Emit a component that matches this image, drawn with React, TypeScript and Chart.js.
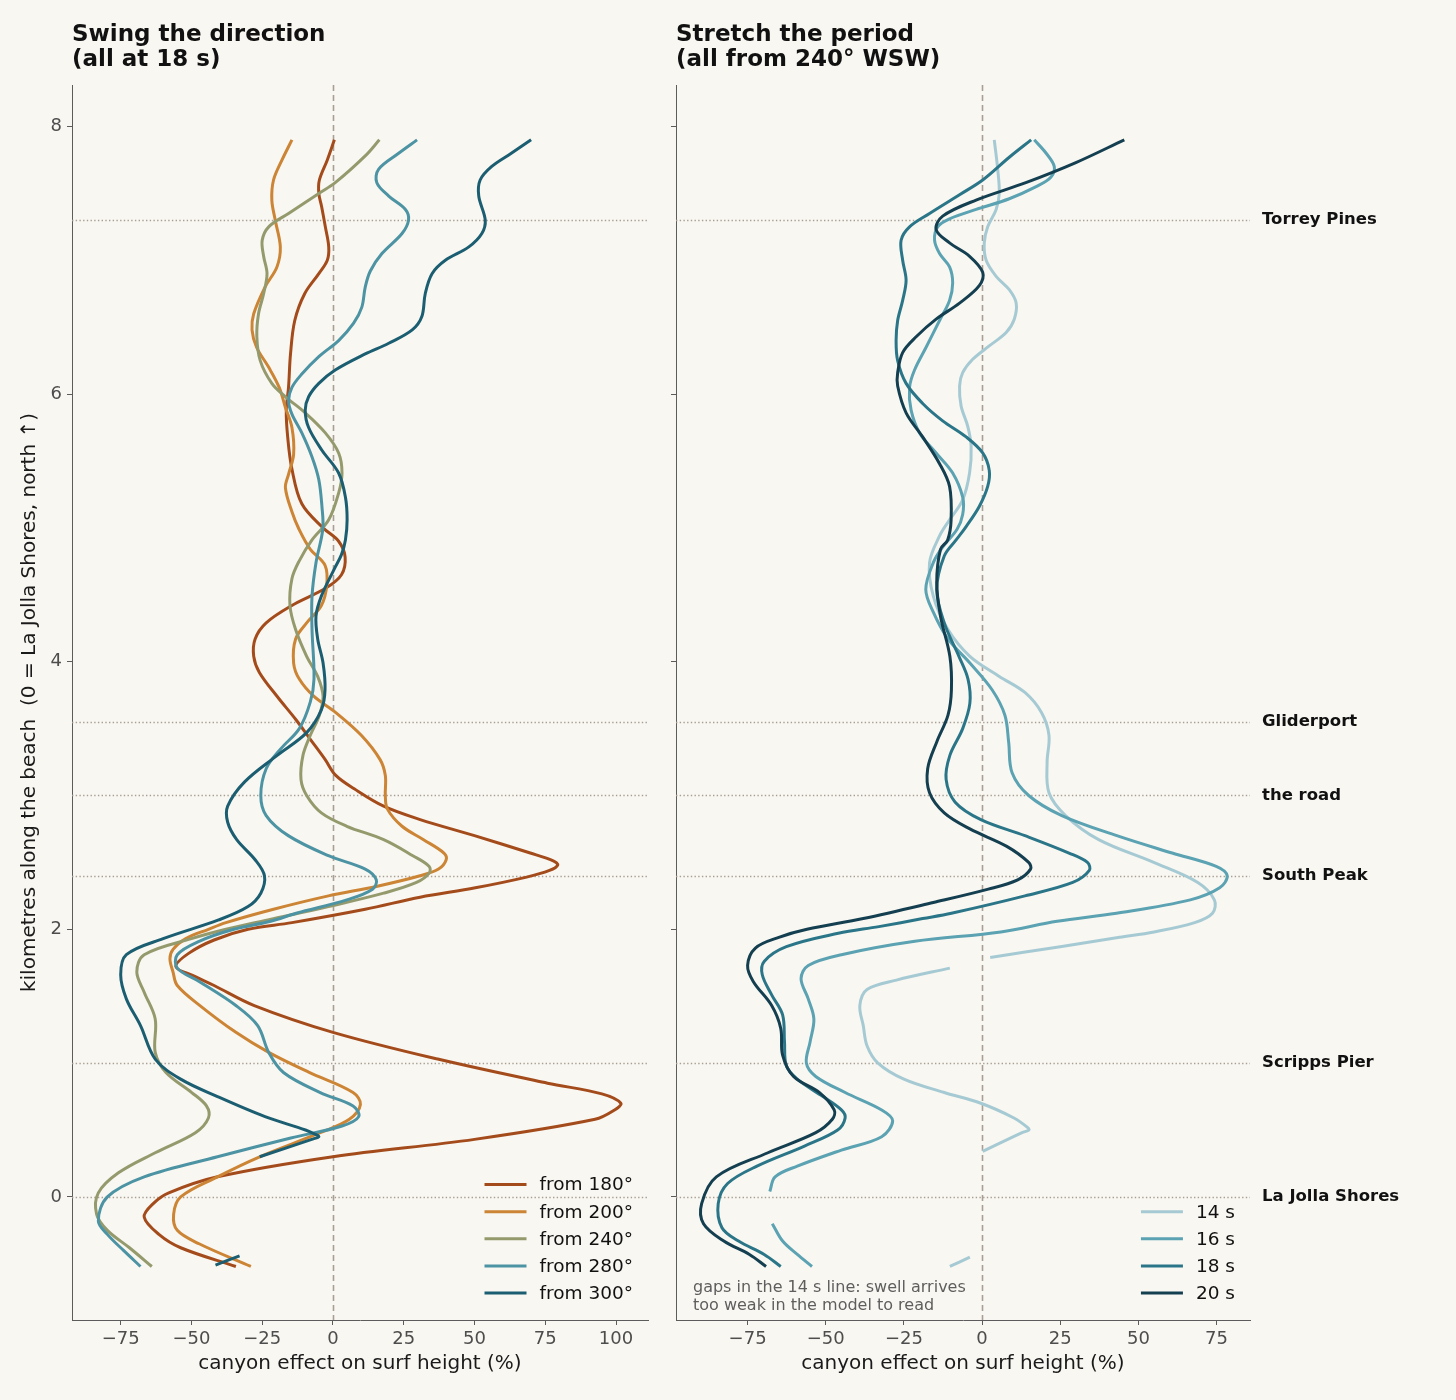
import React, { useEffect, useRef } from 'react';
import { Chart, registerables } from 'chart.js';

Chart.register(...registerables);

const FONT = '"DejaVu Sans", "Liberation Sans", sans-serif';
Chart.defaults.font.family = FONT;

type P = [number, number] | null; // [km along beach, canyon effect %]

// ---------- axes / ticks ----------
const KM_TICKS = [0, 2, 4, 6, 8];
const LEFT_X_TICKS = [-75, -50, -25, 0, 25, 50, 75, 100];
const RIGHT_X_TICKS = [-75, -50, -25, 0, 25, 50, 75];

// ---------- landmarks ----------
const LANDMARK_NAMES = ['Torrey Pines', 'Gliderport', 'the road', 'South Peak', 'Scripps Pier', 'La Jolla Shores'];
const LANDMARK_KM = [7.3, 3.55, 3.0, 2.4, 1.0, 0];

// ---------- left panel: direction (all at 18 s) ----------
const DIR_LABELS = ['from 180°', 'from 200°', 'from 240°', 'from 280°', 'from 300°'];
const DIR_COLORS = ['#a44b1b', '#cc8435', '#959a6d', '#4c93a3', '#1b5e71'];

const DIR_180: P[] = [
  [7.9, 0.5], [7.75, -2], [7.6, -4.8], [7.5, -5], [7.4, -4], [7.25, -2.7], [7.1, -1.5], [7.0, -2], [6.9, -5],
  [6.75, -10], [6.55, -13.5], [6.3, -15], [6.05, -15.7], [5.88, -16.5], [5.68, -16], [5.44, -14.5], [5.18, -11],
  [5.0, -3.5], [4.9, 2], [4.78, 4.3], [4.65, 3], [4.55, -2.5], [4.42, -14.5], [4.29, -23.6], [4.17, -27.5],
  [4.04, -28], [3.92, -26], [3.74, -19.7], [3.57, -13.2], [3.42, -8], [3.27, -2.8], [3.15, 1], [3.05, 7.5],
  [2.92, 17.9], [2.82, 30.8], [2.7, 50], [2.57, 69.7], [2.51, 78], [2.48, 79.4], [2.44, 76.5], [2.39, 68.4],
  [2.31, 50.3], [2.24, 30.8], [2.15, 11.4], [2.05, -14.5], [2.0, -30], [1.92, -42], [1.82, -51], [1.72, -55.5],
  [1.65, -49], [1.58, -42], [1.43, -27.8], [1.23, 0], [1.03, 37], [0.85, 75.8], [0.77, 95], [0.7, 101.7],
  [0.65, 99.5], [0.58, 92.6], [0.43, 50], [0.3, 0], [0.15, -40.8], [0.03, -58], [-0.05, -63.5], [-0.15, -66.7],
  [-0.28, -61.5], [-0.38, -53.8], [-0.52, -34.3],
];
const DIR_200: P[] = [
  [7.9, -14.5], [7.75, -18], [7.6, -21], [7.45, -21.6], [7.3, -20.4], [7.1, -18.6], [6.95, -19.8], [6.8, -24],
  [6.6, -28], [6.48, -28.6], [6.35, -27], [6.2, -22.7], [6.05, -19], [5.9, -16.8], [5.75, -14.5], [5.55, -13.9],
  [5.4, -15.7], [5.3, -16.8], [5.12, -14.5], [4.99, -12], [4.84, -8], [4.72, -2.8], [4.57, -2.2], [4.42, -4.1],
  [4.29, -9.3], [4.17, -13.2], [3.99, -13.9], [3.87, -11.9], [3.74, -6.7], [3.62, 1], [3.45, 10], [3.27, 16.6],
  [3.15, 18.5], [3.0, 18.5], [2.9, 19.2], [2.77, 24.4], [2.67, 32], [2.57, 39.2], [2.52, 40], [2.45, 37.3],
  [2.4, 30.8], [2.32, 15.3], [2.25, -1.6], [2.15, -21], [2.05, -37.8], [2.0, -44], [1.93, -52], [1.85, -56.5],
  [1.78, -57.6], [1.68, -56.5], [1.58, -55], [1.43, -47], [1.23, -34.3], [1.08, -22.7], [0.93, -8.4], [0.78, 7.1],
  [0.69, 9.7], [0.58, 5.8], [0.48, -4.5], [0.3, -25.9], [0.15, -40.8], [0.0, -53.8], [-0.13, -56.3], [-0.25, -55],
  [-0.35, -47.3], [-0.52, -29],
];
const DIR_240: P[] = [
  [7.9, 16.4], [7.78, 11.4], [7.58, 0.8], [7.5, -5], [7.35, -15.7], [7.25, -22.7], [7.15, -25], [7.03, -24.5],
  [6.9, -23.3], [6.75, -24.5], [6.6, -26.3], [6.43, -26.9], [6.25, -25.7], [6.08, -21.6], [5.98, -16.8], [5.86, -9.8],
  [5.71, -2.7], [5.56, 2], [5.41, 3.2], [5.26, 2], [5.06, -1.5], [4.91, -7.4], [4.75, -12], [4.62, -14.5],
  [4.42, -15.2], [4.24, -13.2], [4.04, -9.3], [3.89, -5.4], [3.74, -3.5], [3.6, -4.8], [3.45, -8], [3.3, -10.6],
  [3.12, -11.3], [3.0, -9.3], [2.87, -4.1], [2.77, 4.9], [2.67, 17.9], [2.55, 28.2], [2.47, 34], [2.42, 34],
  [2.35, 29.5], [2.27, 17.9], [2.17, -1.6], [2.07, -23], [2.0, -37.8], [1.93, -50], [1.81, -66.7], [1.68, -69.3],
  [1.53, -66.7], [1.33, -62.8], [1.08, -62.8], [0.93, -59], [0.78, -49.9], [0.68, -44.7], [0.59, -44], [0.48, -48.6],
  [0.33, -62.8], [0.18, -75.8], [0.03, -82.9], [-0.13, -83.5], [-0.25, -79.7], [-0.38, -71.9], [-0.52, -64],
];
const DIR_280: P[] = [
  [7.9, 29.7], [7.8, 23.2], [7.68, 16.1], [7.58, 15.5], [7.48, 19.7], [7.38, 25.6], [7.3, 26.7], [7.2, 24.4],
  [7.05, 17.3], [6.92, 13.2], [6.8, 11.4], [6.65, 10.2], [6.53, 7.3], [6.4, 2], [6.28, -5], [6.15, -11],
  [6.05, -14.5], [5.95, -15.7], [5.85, -14.5], [5.71, -11], [5.53, -7.4], [5.36, -5], [5.16, -3.9], [4.99, -3.6],
  [4.74, -6], [4.49, -7.4], [4.24, -7.4], [3.87, -6.7], [3.7, -8], [3.5, -11.9], [3.35, -18.4], [3.2, -23.6],
  [3.0, -25.5], [2.85, -23.6], [2.7, -15.8], [2.55, -1.6], [2.45, 11.4], [2.37, 15.3], [2.3, 14], [2.22, 4.9],
  [2.12, -13], [2.06, -22], [2.0, -35], [1.91, -47.3], [1.81, -55], [1.71, -55], [1.61, -47.3], [1.43, -34.3],
  [1.28, -26.6], [1.08, -22.7], [0.93, -17.5], [0.78, -4.5], [0.68, 7.1], [0.6, 9.1], [0.53, 3.2], [0.44, -14.9],
  [0.3, -40.8], [0.15, -66.7], [0.0, -79.7], [-0.18, -82.9], [-0.28, -79.7], [-0.4, -74], [-0.52, -68],
];
const DIR_300: P[] = [
  [7.9, 70], [7.8, 63], [7.7, 56], [7.6, 52], [7.48, 51.5], [7.3, 53.8], [7.2, 52.6], [7.1, 48], [7.0, 39.7],
  [6.9, 35], [6.75, 32.6], [6.58, 31.4], [6.48, 28], [6.38, 19.7], [6.3, 11.4], [6.18, 0.8], [6.08, -5],
  [5.98, -8.6], [5.88, -9.8], [5.75, -8.6], [5.58, -3.9], [5.41, 2], [5.23, 4.4], [5.06, 5], [4.91, 4.4],
  [4.8, 3], [4.69, 0.4], [4.49, -4.1], [4.34, -6], [4.17, -5.4], [3.99, -3.5], [3.79, -2.8], [3.64, -4.1],
  [3.47, -9.3], [3.3, -19.7], [3.1, -31.3], [2.92, -37.2], [2.8, -37.2], [2.67, -34], [2.52, -27.5], [2.4, -24.2],
  [2.27, -25.5], [2.17, -30], [2.07, -40.4], [1.93, -60], [1.81, -73], [1.66, -75], [1.48, -73], [1.28, -68],
  [1.03, -62.8], [0.88, -53.8], [0.75, -40.8], [0.6, -24], [0.5, -9.7], [0.465, -6], [0.45, -5], [0.43, -7.5],
  [0.3, -25.9], null, [-0.44, -33], [-0.51, -41.5],
];

// ---------- right panel: period (all from 240°) ----------
const PER_LABELS = ['14 s', '16 s', '18 s', '20 s'];
const PER_COLORS = ['#a6cad3', '#5ba2b2', '#2a7688', '#143f50'];

const PER_14: P[] = [
  [7.9, 3.9], [7.68, 5], [7.5, 5.5], [7.38, 4.5], [7.25, 1.8], [7.13, 0.7], [7.0, 1.3], [6.88, 4.5], [6.78, 8.7],
  [6.68, 10.9], [6.56, 10.3], [6.46, 7.7], [6.36, 2.3], [6.26, -3], [6.16, -6.2], [6.06, -7.2], [5.91, -6.7],
  [5.76, -4.6], [5.61, -3.5], [5.41, -4], [5.21, -6.2], [5.06, -10.4], [4.94, -13.6], [4.74, -16.8], [4.49, -15.6],
  [4.24, -10.9], [4.04, -3.9], [3.89, 5.5], [3.77, 13.7], [3.62, 19], [3.45, 21.4], [3.25, 20.8], [3.02, 21.4],
  [2.85, 26.7], [2.67, 37.3], [2.5, 54.9], [2.35, 69], [2.22, 74.3], [2.12, 73.7], [2.05, 68], [1.98, 55],
  [1.94, 44], [1.87, 25], [1.79, 2.6], null,
  [1.71, -10.3], [1.62, -27.4], [1.55, -36.8], [1.43, -39.1], [1.28, -38], [1.13, -36.8], [1.0, -33.3],
  [0.88, -25], [0.78, -12.1], [0.7, -0.4], [0.59, 10.2], [0.52, 14.5], [0.5, 15], [0.48, 12.8], [0.34, 0.2], null,
  [-0.45, -3.9], [-0.52, -10.3],
];
const PER_16: P[] = [
  [7.9, 16.7], [7.8, 20.5], [7.7, 23.1], [7.62, 22], [7.55, 17.3], [7.46, 8.7], [7.38, -1.9], [7.31, -10.4],
  [7.25, -14.2], [7.15, -15.2], [7.05, -13.6], [6.95, -10.4], [6.83, -9.4], [6.7, -10.4], [6.55, -13.6],
  [6.35, -17.9], [6.18, -21.6], [6.05, -23.2], [5.88, -22.7], [5.71, -20], [5.56, -14.7], [5.41, -9.4],
  [5.23, -6.2], [5.1, -6.2], [4.99, -8], [4.86, -12.5], [4.74, -15.6], [4.54, -18], [4.37, -15.6], [4.17, -10.9],
  [3.99, -3.9], [3.79, 3.2], [3.6, 7.3], [3.4, 8.5], [3.17, 9.6], [3.0, 14.9], [2.85, 25.5], [2.7, 43.1],
  [2.57, 60.8], [2.47, 74.9], [2.4, 78.4], [2.31, 76], [2.22, 66.6], [2.12, 43], [2.06, 24], [1.98, 6],
  [1.91, -21.5], [1.81, -45], [1.73, -55.6], [1.63, -57.9], [1.48, -55.6], [1.33, -53.8], [1.16, -55], [1.0, -56.2],
  [0.9, -53.2], [0.78, -43.8], [0.65, -32.1], [0.57, -28.6], [0.45, -32.1], [0.35, -45], [0.23, -59.1],
  [0.15, -66.2], [0.04, -67.9], null, [-0.2, -67.1], [-0.33, -63.8], [-0.43, -59.1], [-0.52, -54.4],
];
const PER_18: P[] = [
  [7.9, 15.7], [7.77, 8.7], [7.6, 0.2], [7.49, -7.2], [7.35, -16.8], [7.25, -23.2], [7.15, -25.9], [7.0, -25.4],
  [6.85, -24.3], [6.7, -25.4], [6.55, -27], [6.4, -27.5], [6.25, -27], [6.08, -24.3], [5.93, -19], [5.8, -12.6],
  [5.68, -5.1], [5.56, 0.2], [5.43, 2.3], [5.31, 1.8], [5.16, -0.9], [5.01, -5.1], [4.91, -8.3], [4.79, -12.1],
  [4.54, -14.5], [4.29, -12.1], [4.04, -7.4], [3.87, -4.5], [3.69, -3.9], [3.5, -6.2], [3.3, -10.3], [3.12, -11.5],
  [2.95, -8.6], [2.82, -0.4], [2.7, 13.7], [2.57, 27.8], [2.5, 33.7], [2.44, 34.3], [2.35, 29], [2.25, 13.7],
  [2.12, -9.8], [2.08, -19], [2.02, -33], [1.97, -46], [1.87, -62.6], [1.76, -69.7], [1.66, -70.3], [1.51, -67.3],
  [1.36, -63.8], [1.16, -63.2], [0.98, -62.6], [0.88, -59.1], [0.75, -50.9], [0.65, -45], [0.59, -43.8],
  [0.5, -46.2], [0.38, -56.8], [0.23, -72], [0.1, -81.4], [-0.05, -84.4], [-0.23, -83.2], [-0.33, -77.9],
  [-0.43, -69.7], [-0.52, -64.4],
];
const PER_20: P[] = [
  [7.9, 45.5], [7.73, 30], [7.58, 14], [7.45, -1.9], [7.33, -12.6], [7.23, -14.7], [7.13, -10.4], [7.03, -4],
  [6.91, 0.2], [6.81, -0.9], [6.68, -7.2], [6.56, -14.7], [6.43, -21], [6.31, -25.4], [6.16, -27], [6.06, -27],
  [5.86, -24.3], [5.68, -19], [5.48, -13.6], [5.31, -10.4], [5.06, -9.9], [4.91, -11], [4.84, -13.3], [4.59, -14.5],
  [4.34, -13.3], [4.04, -10.3], [3.79, -9.8], [3.6, -10.9], [3.4, -14.5], [3.2, -17.4], [3.02, -16.8], [2.87, -12.1],
  [2.75, -3.9], [2.62, 7.9], [2.5, 14.9], [2.45, 15.5], [2.37, 11.4], [2.3, 2], [2.2, -15.6], [2.08, -38],
  [2.0, -56], [1.94, -65], [1.86, -72.5], [1.73, -75], [1.61, -73.2], [1.43, -67.3], [1.26, -64.4], [1.06, -63.8],
  [0.9, -60.3], [0.78, -52], [0.65, -47.3], [0.58, -47.9], [0.48, -53.2], [0.33, -68.5], [0.15, -85],
  [-0.05, -89.7], [-0.2, -89.1], [-0.33, -82.6], [-0.43, -74.4], [-0.52, -69.1],
];

const LEFT_TITLE = ['Swing the direction', '(all at 18 s)'];
const RIGHT_TITLE = ['Stretch the period', '(all from 240° WSW)'];
const NOTE_LINES = ['gaps in the 14 s line: swell arrives', 'too weak in the model to read'];
const X_TITLE = 'canyon effect on surf height (%)';
const Y_TITLE = 'kilometres along the beach  (0 = La Jolla Shores, north \u2191)';

const BG = '#f9f7f2';
const AXIS = '#5c5c5c';

const toPoints = (s: P[]) => s.map((q) => (q ? { x: q[1], y: q[0] } : { x: null, y: null }));
const fmtTick = (v: number) => (v < 0 ? '\u2212' + Math.abs(v) : String(v));

interface PanelCfg {
  series: P[][];
  labels: string[];
  colors: string[];
  xMin: number;
  xMax: number;
  xTicks: number[];
  yAxisWidth: number;
  padRight: number;
  yLabels: boolean;
  title: string[];
  landmarks: boolean;
  note?: string[];
}

function decoPlugin(cfg: PanelCfg) {
  return {
    id: 'panelDeco',
    beforeDatasetsDraw(chart: any) {
      const { ctx, chartArea: a, scales } = chart;
      ctx.save();
      ctx.beginPath();
      ctx.rect(a.left, a.top, a.right - a.left, a.bottom - a.top);
      ctx.clip();
      ctx.strokeStyle = '#a79f93';
      ctx.lineWidth = 1.3;
      ctx.setLineDash([1.4, 2.3]);
      for (const km of LANDMARK_KM) {
        const y = Math.round(scales.y.getPixelForValue(km)) + 0.5;
        ctx.beginPath();
        ctx.moveTo(a.left, y);
        ctx.lineTo(a.right, y);
        ctx.stroke();
      }
      const x0 = Math.round(scales.x.getPixelForValue(0)) + 0.5;
      ctx.strokeStyle = '#a89f94';
      ctx.lineWidth = 1.6;
      ctx.setLineDash([6, 4]);
      ctx.beginPath();
      ctx.moveTo(x0, a.top);
      ctx.lineTo(x0, a.bottom);
      ctx.stroke();
      ctx.restore();
    },
    afterDatasetsDraw(chart: any) {
      const { ctx, chartArea: a } = chart;
      ctx.save();
      ctx.font = `18.5px ${FONT}`;
      const maxW = Math.max(...cfg.labels.map((l) => ctx.measureText(l).width));
      const textX = a.right - 15 - maxW;
      const lx1 = textX - 13;
      const lx0 = lx1 - 42;
      const n = cfg.labels.length;
      cfg.labels.forEach((lab, i) => {
        const y = a.bottom - 27 - (n - 1 - i) * 27.1;
        ctx.strokeStyle = cfg.colors[i];
        ctx.lineWidth = 3;
        ctx.setLineDash([]);
        ctx.beginPath();
        ctx.moveTo(lx0, y);
        ctx.lineTo(lx1, y);
        ctx.stroke();
        ctx.fillStyle = '#111';
        ctx.textAlign = 'left';
        ctx.textBaseline = 'middle';
        ctx.fillText(lab, textX, y + 1);
      });
      if (cfg.note) {
        ctx.font = `16px ${FONT}`;
        ctx.fillStyle = '#5e5e5e';
        ctx.textBaseline = 'middle';
        cfg.note.forEach((t, i) => ctx.fillText(t, a.left + 17, 1288 + i * 18));
      }
      ctx.restore();
    },
    afterDraw(chart: any) {
      const { ctx, chartArea: a, scales } = chart;
      ctx.save();
      ctx.fillStyle = '#111';
      ctx.textAlign = 'left';
      ctx.textBaseline = 'alphabetic';
      ctx.font = `bold 23px ${FONT}`;
      ctx.fillText(cfg.title[0], a.left, 41);
      ctx.fillText(cfg.title[1], a.left, 66);
      if (cfg.landmarks) {
        ctx.font = `bold 16.5px ${FONT}`;
        ctx.textBaseline = 'middle';
        LANDMARK_NAMES.forEach((name, i) => {
          ctx.fillText(name, a.right + 12, scales.y.getPixelForValue(LANDMARK_KM[i]));
        });
      }
      ctx.restore();
    },
  };
}

function buildChart(canvas: HTMLCanvasElement, cfg: PanelCfg) {
  const n = cfg.series.length;
  return new Chart(canvas, {
    type: 'scatter',
    data: {
      datasets: cfg.series.map((s, i) => ({
        label: cfg.labels[i],
        data: toPoints(s) as any,
        borderColor: cfg.colors[i],
        backgroundColor: cfg.colors[i],
        borderWidth: 3,
        showLine: true,
        pointRadius: 0,
        pointHoverRadius: 0,
        tension: 0.35,
        fill: false,
        spanGaps: false,
        borderJoinStyle: 'round',
        order: n - i,
      })),
    },
    options: {
      responsive: false,
      animation: false,
      events: [],
      layout: { padding: { top: 85, right: cfg.padRight, bottom: 0, left: 0 } },
      plugins: {
        legend: { display: false },
        tooltip: { enabled: false },
        title: { display: false },
      },
      scales: {
        x: {
          type: 'linear',
          min: cfg.xMin,
          max: cfg.xMax,
          afterBuildTicks: (axis: any) => {
            axis.ticks = cfg.xTicks.map((v) => ({ value: v }));
          },
          afterFit: (axis: any) => {
            axis.height = 80;
          },
          grid: { drawOnChartArea: false, drawTicks: true, tickLength: 5, color: AXIS, lineWidth: 1 },
          border: { display: true, color: AXIS, width: 1 },
          ticks: {
            color: '#4d4d4d',
            font: { size: 18 },
            padding: 4,
            maxRotation: 0,
            autoSkip: false,
            callback: (v: any) => fmtTick(Number(v)),
          },
          title: {
            display: true,
            text: X_TITLE,
            color: '#1a1a1a',
            font: { size: 20 },
            padding: { top: 0, bottom: 24 },
          },
        },
        y: {
          type: 'linear',
          min: -0.92,
          max: 8.31,
          afterBuildTicks: (axis: any) => {
            axis.ticks = KM_TICKS.map((v) => ({ value: v }));
          },
          afterFit: (axis: any) => {
            axis.width = cfg.yAxisWidth;
          },
          grid: { drawOnChartArea: false, drawTicks: true, tickLength: 5, color: AXIS, lineWidth: 1 },
          border: { display: true, color: AXIS, width: 1 },
          ticks: {
            display: cfg.yLabels,
            color: '#4d4d4d',
            font: { size: 18 },
            padding: 5,
            callback: (v: any) => fmtTick(Number(v)),
          },
          title: {
            display: cfg.yLabels,
            text: Y_TITLE,
            color: '#1a1a1a',
            font: { size: 20 },
            padding: { top: 18, bottom: 0 },
          },
        },
      },
    } as any,
    plugins: [decoPlugin(cfg)],
  });
}

export default function App() {
  const leftRef = useRef<HTMLCanvasElement>(null);
  const rightRef = useRef<HTMLCanvasElement>(null);

  useEffect(() => {
    const left = buildChart(leftRef.current!, {
      series: [DIR_180, DIR_200, DIR_240, DIR_280, DIR_300],
      labels: DIR_LABELS,
      colors: DIR_COLORS,
      xMin: -92.2,
      xMax: 111.3,
      xTicks: LEFT_X_TICKS,
      yAxisWidth: 72,
      padRight: 12,
      yLabels: true,
      title: LEFT_TITLE,
      landmarks: false,
    });
    const right = buildChart(rightRef.current!, {
      series: [PER_14, PER_16, PER_18, PER_20],
      labels: PER_LABELS,
      colors: PER_COLORS,
      xMin: -97.9,
      xMax: 85.7,
      xTicks: RIGHT_X_TICKS,
      yAxisWidth: 16,
      padRight: 206,
      yLabels: false,
      title: RIGHT_TITLE,
      landmarks: true,
      note: NOTE_LINES,
    });
    return () => {
      left.destroy();
      right.destroy();
    };
  }, []);

  return (
    <div style={{ position: 'absolute', left: 0, top: 0, width: 1456, height: 1400, background: BG, overflow: 'hidden' }}>
      <canvas ref={leftRef} width={660} height={1400} style={{ position: 'absolute', left: 0, top: 0, width: 660, height: 1400 }} />
      <canvas ref={rightRef} width={796} height={1400} style={{ position: 'absolute', left: 660, top: 0, width: 796, height: 1400 }} />
    </div>
  );
}
